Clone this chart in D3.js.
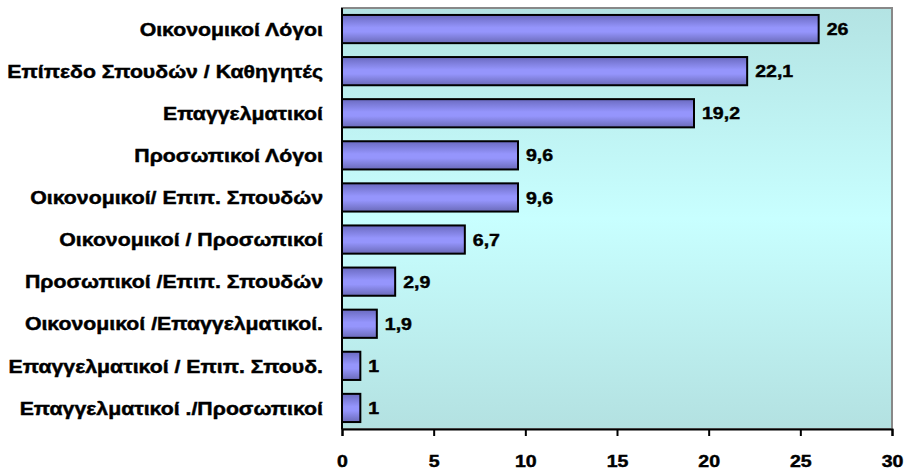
<!DOCTYPE html>
<html>
<head>
<meta charset="utf-8">
<script src="https://cdn.jsdelivr.net/npm/d3@7"></script>
<style>
  body { margin: 0; background: #fff; }
  text { stroke: #000; stroke-width: 0.45px; }
</style>
</head>
<body>
<svg class="svg-main" width="907" height="473"></svg>
<script>
const categories = [
  "Οικονομικοί Λόγοι",
  "Επίπεδο Σπουδών / Καθηγητές",
  "Επαγγελματικοί",
  "Προσωπικοί Λόγοι",
  "Οικονομικοί/  Επιπ. Σπουδών",
  "Οικονομικοί / Προσωπικοί",
  "Προσωπικοί /Επιπ. Σπουδών",
  "Οικονομικοί  /Επαγγελματικοί.",
  "Επαγγελματικοί / Επιπ. Σπουδ.",
  "Επαγγελματικοί ./Προσωπικοί"
];
const values = [26, 22.1, 19.2, 9.6, 9.6, 6.7, 2.9, 1.9, 1, 1];
const valueLabels = ["26", "22,1", "19,2", "9,6", "9,6", "6,7", "2,9", "1,9", "1", "1"];
const ticks = [0, 5, 10, 15, 20, 25, 30];

const svg = d3.select(".svg-main");
const plotLeft = 342, plotRight = 892, plotTop = 8, plotBottom = 429;
const font = '"Liberation Sans", Arial, sans-serif';
const stretch = 1.15; // the original text is drawn a bit wide

const x = d3.scaleLinear().domain([0, 30]).range([plotLeft, plotRight]);
const y = d3.scaleBand().domain(categories).range([plotTop, plotBottom]).paddingInner(0.33).paddingOuter(0.165);

const defs = svg.append("defs");
const bg = defs.append("linearGradient").attr("id", "bg").attr("x1", 0).attr("y1", 0).attr("x2", 0).attr("y2", 1);
bg.append("stop").attr("offset", "0%").attr("stop-color", "#b3e3e3");
bg.append("stop").attr("offset", "50%").attr("stop-color", "#c8ffff");
bg.append("stop").attr("offset", "100%").attr("stop-color", "#b3e1e1");

const bar = defs.append("linearGradient").attr("id", "bar").attr("x1", 0).attr("y1", 0).attr("x2", 0).attr("y2", 1);
bar.append("stop").attr("offset", "0%").attr("stop-color", "#6a6ac0");
bar.append("stop").attr("offset", "45%").attr("stop-color", "#9595fc");
bar.append("stop").attr("offset", "60%").attr("stop-color", "#9595fc");
bar.append("stop").attr("offset", "100%").attr("stop-color", "#6a6ab8");

// plot area
svg.append("rect")
  .attr("x", plotLeft).attr("y", plotTop)
  .attr("width", plotRight - plotLeft).attr("height", plotBottom - plotTop)
  .attr("fill", "url(#bg)")
  .attr("stroke", "#888").attr("stroke-width", 2);

// bars
svg.append("g")
  .selectAll("rect")
  .data(values)
  .enter().append("rect")
    .attr("x", x(0))
    .attr("y", (d, i) => y(categories[i]))
    .attr("width", d => x(d) - x(0))
    .attr("height", y.bandwidth())
    .attr("fill", "url(#bar)")
    .attr("stroke", "#000")
    .attr("stroke-width", 2);

// value labels
svg.append("g")
  .selectAll("text")
  .data(values)
  .enter().append("text")
    .attr("transform", (d, i) => `translate(${x(d) + 8},${y(categories[i]) + y.bandwidth() / 2}) scale(${stretch},1)`)
    .attr("dy", "0.36em")
    .attr("font-family", font)
    .attr("font-weight", "bold")
    .attr("font-size", 17)
    .text((d, i) => valueLabels[i]);

// category labels
svg.append("g")
  .selectAll("text")
  .data(categories)
  .enter().append("text")
    .attr("transform", d => `translate(323,${y(d) + y.bandwidth() / 2}) scale(${stretch},1)`)
    .attr("dy", "0.36em")
    .attr("text-anchor", "end")
    .attr("font-family", font)
    .attr("font-weight", "bold")
    .attr("font-size", 18.5)
    .text(d => d);

// axes lines
svg.append("line")
  .attr("x1", plotLeft).attr("x2", plotLeft).attr("y1", plotTop).attr("y2", plotBottom)
  .attr("stroke", "#000").attr("stroke-width", 2);

const xAxis = svg.append("g")
  .attr("transform", `translate(0,${plotBottom})`)
  .call(d3.axisBottom(x).tickValues(ticks).tickSize(7).tickPadding(19).tickFormat(d3.format("d")));
xAxis.select(".domain").attr("stroke", "#000").attr("stroke-width", 2);
xAxis.selectAll(".tick line").attr("stroke", "#000").attr("stroke-width", 2);
xAxis.selectAll(".tick text")
  .attr("transform", `scale(${stretch},1)`)
  .attr("font-family", font)
  .attr("font-weight", "bold")
  .attr("font-size", 17)
  .attr("fill", "#000");
</script>
</body>
</html>
